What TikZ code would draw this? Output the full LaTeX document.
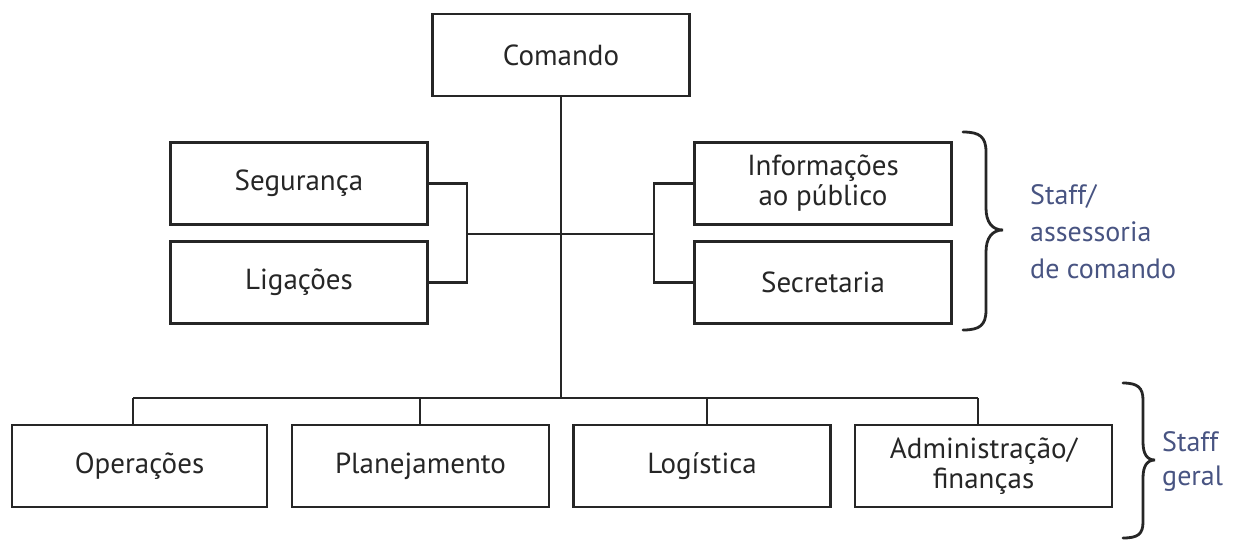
\documentclass[tikz,border=0pt]{standalone}
\usepackage{fontspec}
\setmainfont{PT Sans}
\definecolor{stafftxt}{RGB}{72,84,130}
\begin{document}
\begin{tikzpicture}[x=1pt,y=-1pt,
  box/.style={draw=black!85,line width=2.3pt,minimum width=257pt,minimum height=82pt,inner sep=0pt,align=center,font=\fontsize{29}{30}\selectfont,text=black!85},
  conn/.style={draw=black!85,line width=2.3pt},
  brc/.style={draw=black!85,line width=2.8pt,line cap=round},
  lbl/.style={anchor=west,align=left,text=stafftxt,font=\fontsize{28}{37}\selectfont,inner sep=0pt}]
\useasboundingbox (0,0) rectangle (1234,542);
\node[box] (com) at (561,55) {Comando};
\node[box] (seg) at (299,183.5) {Segurança};
\node[box] (lig) at (299,282.5) {Ligações};
\node[box] (inf) at (823,183.5) {Informações\\ao público};
\node[box] (sec) at (823,282.5) {Secretaria};
\node[box,minimum width=255pt] (ope) at (139.5,466) {Operações};
\node[box] (pla) at (420.5,466) {Planejamento};
\node[box] (log) at (702,466) {Logística};
\node[box] (adm) at (983.5,466) {Administração/\\finanças};
% junction coordinates
\coordinate (bus) at (561,398);
\coordinate (lj) at (467,234);
\coordinate (rj) at (654,234);
\coordinate (b1) at (133,398);
\coordinate (b2) at (420,398);
\coordinate (b3) at (707,398);
\coordinate (b4) at (978,398);
% trunk
\draw[conn] (com.south) -- (bus);
\draw[conn] (b1) -- (b4);
\draw[conn] (b1) -- (b1 |- ope.north);
\draw[conn] (b2) -- (b2 |- pla.north);
\draw[conn] (b3) -- (b3 |- log.north);
\draw[conn] (b4) -- (b4 |- adm.north);
% left staff
\draw[conn] (seg.east) -- (seg.east -| lj) -- (lig.east -| lj) -- (lig.east);
\draw[conn] (lj) -- (lj -| com.south);
% right staff
\draw[conn] (inf.west) -- (inf.west -| rj) -- (sec.west -| rj) -- (sec.west);
\draw[conn] (rj) -- (rj -| com.south);
% braces
\draw[brc] (963,132) .. controls (980,132) and (986,137) .. (986,152) -- (986,208)
  .. controls (986,222) and (992,230) .. (1003,230)
  .. controls (992,230) and (986,238) .. (986,252) -- (986,310)
  .. controls (986,325) and (980,330) .. (963,330);
\draw[brc] (1123,383) .. controls (1138,383) and (1143,388) .. (1143,400) -- (1143,442)
  .. controls (1143,454) and (1147,460) .. (1155,460)
  .. controls (1147,460) and (1143,466) .. (1143,478) -- (1143,522)
  .. controls (1143,534) and (1138,538) .. (1123,538);
\node[lbl] (s1) at (1030,232) {Staff/\\assessoria\\de comando};
\node[lbl,font=\fontsize{28}{34}\selectfont] (s2) at (1162,461) {Staff\\geral};
\end{tikzpicture}
\end{document}
